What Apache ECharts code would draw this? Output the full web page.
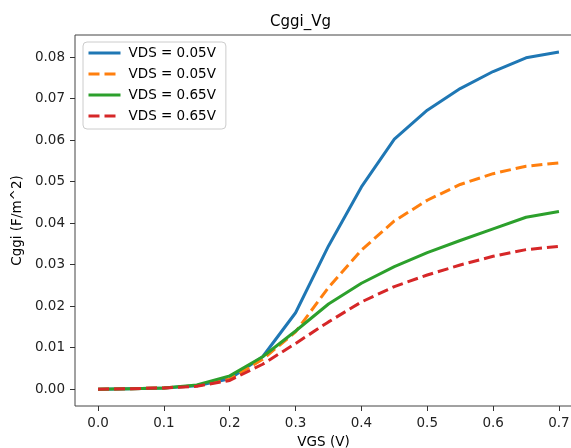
<!DOCTYPE html>
<html>
<head>
<meta charset="utf-8">
<script src="https://cdn.jsdelivr.net/npm/echarts@6/dist/echarts.min.js"></script>
<style>
  html, body { margin: 0; padding: 0; background: #fff; }
  #chart { width: 571px; height: 448px; }
</style>
</head>
<body>
<div id="chart"></div>
<script>
// gate voltage sweep
var vgs = [0, 0.05, 0.1, 0.15, 0.2, 0.25, 0.3, 0.35, 0.4, 0.45, 0.5, 0.55, 0.6, 0.65, 0.7];

// Cggi curves (F/m^2)
var cggiSolid005 = [0, 0.0001, 0.0003, 0.0008, 0.0025, 0.0078, 0.0184, 0.0345, 0.0487, 0.0602, 0.0672, 0.0724, 0.0765, 0.0798, 0.0812];
var cggiDash005 = [0, 0.0001, 0.0003, 0.0008, 0.0024, 0.0072, 0.0138, 0.0245, 0.0335, 0.0405, 0.0455, 0.0493, 0.0519, 0.0537, 0.0545];
var cggiSolid065 = [0, 0.0001, 0.0003, 0.0010, 0.0032, 0.0078, 0.0140, 0.0205, 0.0255, 0.0295, 0.0329, 0.0358, 0.0386, 0.0414, 0.0428];
var cggiDash065 = [0, 0.0001, 0.0003, 0.0007, 0.0021, 0.0060, 0.0110, 0.0162, 0.0210, 0.0247, 0.0275, 0.0299, 0.0320, 0.0336, 0.0344];

var xTicks = [0, 0.1, 0.2, 0.3, 0.4, 0.5, 0.6, 0.7];
var yTicks = [0, 0.01, 0.02, 0.03, 0.04, 0.05, 0.06, 0.07, 0.08];

var seriesNames = ['VDS = 0.05V', 'VDS = 0.05V ', 'VDS = 0.65V', 'VDS = 0.65V '];
var legendLabels = ['VDS = 0.05V', 'VDS = 0.05V', 'VDS = 0.65V', 'VDS = 0.65V'];

var font = 'DejaVu Sans';

function pairs(ys) {
    var out = [];
    for (var i = 0; i < vgs.length; i++) {
        out.push([vgs[i], ys[i]]);
    }
    return out;
}

function makeSeries(name, ys, color, dashed) {
    return {
        name: name,
        type: 'line',
        symbol: 'none',
        data: pairs(ys),
        lineStyle: {
            color: color,
            width: 3,
            type: dashed ? [11, 5] : 'solid',
            join: 'round'
        },
        itemStyle: { color: color },
        animation: false
    };
}

var chart = echarts.init(document.getElementById('chart'));
chart.setOption({
    backgroundColor: '#fff',
    title: {
        text: 'Cggi_Vg',
        left: 265,
        top: 10,
        textStyle: { fontFamily: font, fontSize: 15, fontWeight: 'normal', color: '#000' }
    },
    legend: {
        left: 83,
        top: 42,
        orient: 'vertical',
        data: seriesNames,
        itemWidth: 32,
        itemHeight: 14,
        itemGap: 7,
        padding: [4, 10, 6, 4],
        backgroundColor: '#fff',
        borderColor: '#ccc',
        borderWidth: 1,
        borderRadius: 4,
        itemStyle: { opacity: 0 },
        lineStyle: { width: 3 },
        formatter: function (name) {
            return legendLabels[seriesNames.indexOf(name)];
        },
        textStyle: { fontFamily: font, fontSize: 13.5, color: '#000', padding: [0, 0, 0, 3] }
    },
    grid: {
        left: 75,
        top: 35,
        width: 507,
        height: 371,
        outerBoundsMode: 'none',
        containLabel: false,
        show: true,
        borderColor: '#444',
        borderWidth: 1,
        backgroundColor: '#fff'
    },
    xAxis: {
        type: 'value',
        min: -0.035,
        max: 0.735,
        name: 'VGS (V)',
        nameLocation: 'middle',
        nameGap: 29,
        nameTextStyle: { fontFamily: font, fontSize: 13.5, color: '#000', padding: [0, 10, 0, 0] },
        axisLine: { show: false, onZero: false },
        axisTick: { show: true, inside: false, length: 5, customValues: xTicks, lineStyle: { color: '#333' } },
        axisLabel: {
            customValues: xTicks,
            margin: 10,
            fontFamily: font,
            fontSize: 13.5,
            color: '#222',
            formatter: function (v) { return v.toFixed(1); }
        },
        splitLine: { show: false }
    },
    yAxis: {
        type: 'value',
        min: -0.00406,
        max: 0.0853,
        name: 'Cggi (F/m^2)',
        nameLocation: 'middle',
        nameGap: 48,
        nameTextStyle: { fontFamily: font, fontSize: 13.5, color: '#000' },
        axisLine: { show: false, onZero: false },
        axisTick: { show: true, inside: false, length: 5, customValues: yTicks, lineStyle: { color: '#333' } },
        axisLabel: {
            customValues: yTicks,
            margin: 10,
            fontFamily: font,
            fontSize: 13.5,
            color: '#222',
            formatter: function (v) { return v.toFixed(2); }
        },
        splitLine: { show: false }
    },
    series: [
        makeSeries(seriesNames[0], cggiSolid005, '#1f77b4', false),
        makeSeries(seriesNames[1], cggiDash005, '#ff7f0e', true),
        makeSeries(seriesNames[2], cggiSolid065, '#2ca02c', false),
        makeSeries(seriesNames[3], cggiDash065, '#d62728', true)
    ]
});
</script>
</body>
</html>
